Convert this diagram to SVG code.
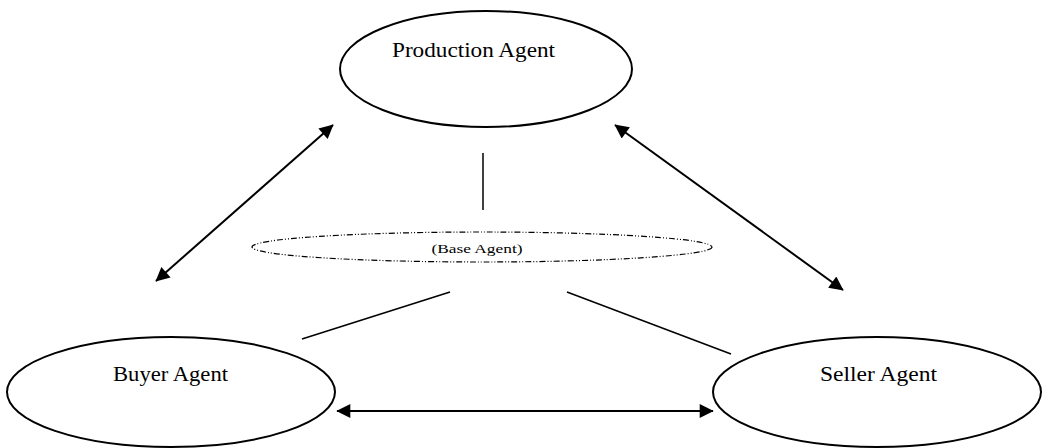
<svg xmlns="http://www.w3.org/2000/svg" width="1043" height="448" viewBox="0 0 1043 448">
  <style>
    .agent { fill: #ffffff; stroke: #000000; stroke-width: 2; }
    .base { fill: none; stroke: #000000; stroke-width: 1.2; stroke-dasharray: 6 2 1 2 1 2; }
    .label { font-family: "Liberation Serif", "Times New Roman", serif; fill: #000000; text-anchor: middle; }
    .link { stroke: #000000; stroke-width: 2; fill: none; }
    .tie { stroke: #000000; stroke-width: 1.5; fill: none; }
  </style>
  <defs>
    <marker id="head" viewBox="0 0 10 10" refX="9.5" refY="5" markerWidth="9" markerHeight="7" markerUnits="strokeWidth" orient="auto-start-reverse">
      <path d="M0,0 L10,5 L0,10 Z" fill="#000000"/>
    </marker>
  </defs>

  <g id="production-agent">
    <ellipse class="agent" cx="486" cy="69" rx="146" ry="58"/>
    <text class="label" x="473.5" y="57" font-size="22" textLength="163" lengthAdjust="spacingAndGlyphs">Production Agent</text>
  </g>

  <g id="base-agent">
    <ellipse class="base" cx="482" cy="247" rx="230" ry="15"/>
    <text class="label" x="477" y="253" font-size="13" textLength="91" lengthAdjust="spacingAndGlyphs">(Base Agent)</text>
  </g>

  <g id="buyer-agent">
    <ellipse class="agent" cx="171" cy="392" rx="164" ry="55"/>
    <text class="label" x="170.5" y="381" font-size="21" textLength="115" lengthAdjust="spacingAndGlyphs">Buyer Agent</text>
  </g>

  <g id="seller-agent">
    <ellipse class="agent" cx="877" cy="392" rx="164" ry="55"/>
    <text class="label" x="878.5" y="381" font-size="21" textLength="117" lengthAdjust="spacingAndGlyphs">Seller Agent</text>
  </g>

  <g id="connectors">
    <line class="tie" x1="483" y1="153" x2="483" y2="210"/>
    <line class="tie" x1="302" y1="339" x2="450" y2="292"/>
    <line class="tie" x1="567" y1="292" x2="731" y2="354"/>
    <line class="link" x1="156" y1="281" x2="333" y2="125" marker-start="url(#head)" marker-end="url(#head)"/>
    <line class="link" x1="615" y1="125" x2="843" y2="290" marker-start="url(#head)" marker-end="url(#head)"/>
    <line class="link" x1="337" y1="411" x2="713" y2="411" marker-start="url(#head)" marker-end="url(#head)"/>
  </g>
</svg>
